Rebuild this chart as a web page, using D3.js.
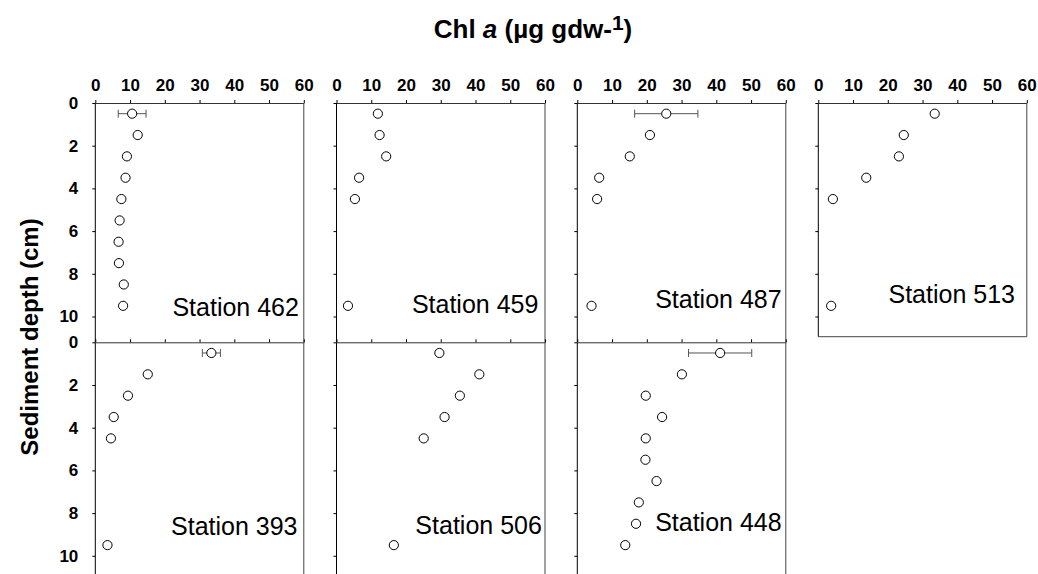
<!DOCTYPE html>
<html>
<head>
<meta charset="utf-8">
<script src="https://cdn.jsdelivr.net/npm/d3@7"></script>
<style>
  body { margin: 0; background: #fff; }
  svg { display: block; font-family: "Liberation Sans", Arial, sans-serif; }
</style>
</head>
<body>
<svg id="chart"></svg>
<script>
// Chart size
const width = 1038, height = 574;

// Depths (cm) at which chl a was measured
const depths = [0.5, 1.5, 2.5, 3.5, 4.5, 5.5, 6.5, 7.5, 8.5, 9.5];

// Stations, in panel order (top row then bottom row)
const stations = ["462", "459", "487", "513", "393", "506", "448"];

// Chl a values per station (ug gdw-1)
const chl462 = [10.6, 12.2, 9.1, 8.7, 7.5, 7.0, 6.7, 6.8, 8.2, 8.0];
const chl459 = [11.9, 12.4, 14.3, 6.5, 5.3, null, null, null, null, 3.3];
const chl487 = [25.6, 20.9, 15.1, 6.3, 5.7, null, null, null, null, 4.1];
const chl513 = [33.5, 24.6, 23.2, 13.8, 4.2, null, null, null, null, 3.7];
const chl393 = [33.4, 15.1, 9.4, 5.3, 4.5, null, null, null, null, 3.5];
const chl506 = [29.6, 41.1, 35.5, 31.1, 25.1, null, null, null, null, 16.5];
const chl448 = [41.1, 30.1, 19.7, 24.4, 19.7, 19.6, 22.8, 17.7, 16.9, 13.8];
const chlValues = [chl462, chl459, chl487, chl513, chl393, chl506, chl448];

// Error (+/-) on the surface sample, null where none drawn
const surfaceError = [4.0, null, 9.1, null, 2.6, null, 9.1];

// Axis ticks
const xTicks = [0, 10, 20, 30, 40, 50, 60];
const yTicks = [0, 2, 4, 6, 8, 10];

// Label anchor (right end, baseline) in data units for each panel
const labelAt = [[58.6, 9.98], [58.1, 9.82], [58.8, 9.58], [56.6, 9.38],
                 [58.2, 9.01], [59.1, 8.98], [58.8, 8.82]];

// Layout
const colX = [95.3, 336.5, 577.3, 818.3];
const rowY = [103, 342.3];
const panelW = 208.5;
const ySpan = 213.5;        // pixels for 10 cm
const panelH = [239.3, 239.3, 239.3, 233.7, 240, 240, 240];
const tickFont = 17;

const svg = d3.select("#chart").attr("width", width).attr("height", height);

const x = d3.scaleLinear().domain([0, 60]).range([0, panelW]);
const y = d3.scaleLinear().domain([0, 10]).range([0, ySpan]);

stations.forEach((st, i) => {
    const row = i < 4 ? 0 : 1;
    const col = row === 0 ? i : i - 4;
    const h = panelH[i];
    const g = svg.append("g").attr("transform", `translate(${colX[col]},${rowY[row]})`);

    // Top axis
    const xAxis = d3.axisTop(x).tickValues(xTicks).tickSize(3).tickSizeOuter(0).tickPadding(9);
    if (row === 1) xAxis.tickFormat("");
    const gx = g.append("g").call(xAxis);
    gx.select(".domain").attr("stroke", "#333");
    gx.selectAll("text").attr("font-size", tickFont).attr("font-weight", "bold")
        .attr("font-family", "'Liberation Sans', Arial, sans-serif").attr("fill", "#000");

    // Left axis
    const yAxis = d3.axisLeft(y).tickValues(yTicks).tickSize(3).tickSizeOuter(0).tickPadding(14);
    if (col !== 0) yAxis.tickFormat("");
    const gy = g.append("g").call(yAxis);
    gy.select(".domain").remove();
    gy.selectAll("text").attr("font-size", tickFont).attr("font-weight", "bold")
        .attr("font-family", "'Liberation Sans', Arial, sans-serif").attr("fill", "#000");

    // Frame lines
    g.append("line").attr("x1", 0).attr("x2", 0).attr("y1", 0).attr("y2", h)
        .attr("stroke", "#000");
    g.append("line").attr("x1", panelW).attr("x2", panelW).attr("y1", 0).attr("y2", h)
        .attr("stroke", "#444");
    if (i === 3) {
        g.append("line").attr("x1", 0).attr("x2", panelW).attr("y1", h).attr("y2", h)
            .attr("stroke", "#444");
    }

    // Data points
    const pts = depths.map((d, k) => ({ depth: d, v: chlValues[i][k] })).filter(p => p.v !== null);

    // Error bar on the surface sample
    const err = surfaceError[i];
    if (err !== null) {
        const p = pts[0];
        const eb = g.append("g").attr("stroke", "#555").attr("stroke-width", 1);
        eb.append("line").attr("x1", x(p.v - err)).attr("x2", x(p.v + err))
            .attr("y1", y(p.depth)).attr("y2", y(p.depth));
        [p.v - err, p.v + err].forEach(v => {
            eb.append("line").attr("x1", x(v)).attr("x2", x(v))
                .attr("y1", y(p.depth) - 4).attr("y2", y(p.depth) + 4);
        });
    }

    g.selectAll("circle").data(pts).enter().append("circle")
        .attr("cx", d => x(d.v))
        .attr("cy", d => y(d.depth))
        .attr("r", 4.6)
        .attr("fill", "#fff")
        .attr("stroke", "#000")
        .attr("stroke-width", 1);

    // Station label
    g.append("text")
        .attr("x", x(labelAt[i][0]))
        .attr("y", y(labelAt[i][1]))
        .attr("text-anchor", "end")
        .attr("font-size", 25)
        .attr("fill", "#000")
        .text("Station " + st);
});

// Title
const title = svg.append("text")
    .attr("x", 533).attr("y", 38)
    .attr("text-anchor", "middle")
    .attr("font-size", 26).attr("font-weight", "bold");
title.append("tspan").text("Chl ");
title.append("tspan").attr("font-style", "italic").text("a");
title.append("tspan").text(" (\u00b5g gdw-");
title.append("tspan").attr("dy", -8).attr("font-size", 21).text("1");
title.append("tspan").attr("dy", 8).text(")");

// Y axis label
svg.append("text")
    .attr("transform", "translate(38,337) rotate(-90)")
    .attr("text-anchor", "middle")
    .attr("font-size", 24).attr("font-weight", "bold")
    .text("Sediment depth (cm)");
</script>
</body>
</html>
